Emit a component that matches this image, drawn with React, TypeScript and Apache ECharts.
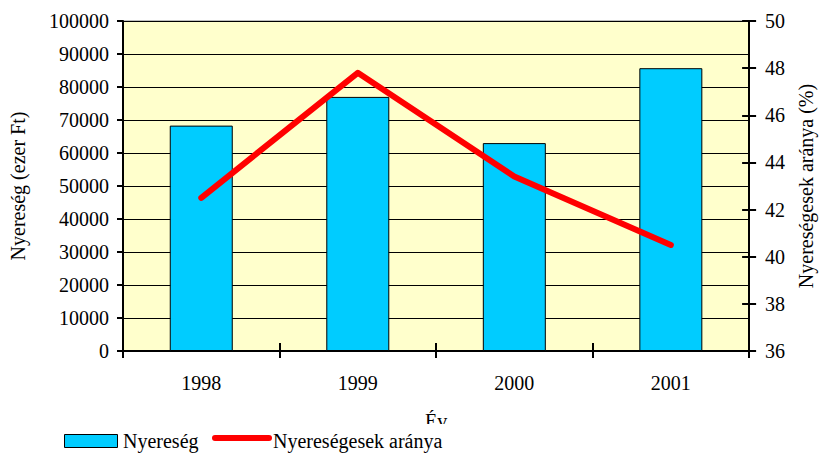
import React, { useEffect, useRef } from "react";
import * as echarts from "echarts";

const years = ["1998", "1999", "2000", "2001"];
const profit = [68300, 77000, 63000, 85700];
const ratio = [42.5, 47.8, 43.4, 40.5];
const seriesNames = ["Nyereség", "Nyereségesek aránya"];

const FONT = "Liberation Serif";

export default function App() {
  const ref = useRef<HTMLDivElement>(null);
  useEffect(() => {
    const chart = echarts.init(ref.current!, null, { renderer: "svg" });
    const txt = { fontFamily: FONT, fontSize: 20, color: "#000" };
    chart.setOption({
      animation: false,
      backgroundColor: "#fff",
      textStyle: { fontFamily: FONT },
      grid: {
        left: 123,
        right: 69,
        top: 21,
        bottom: 102,
        show: true,
        backgroundColor: "#FFFFCC",
        borderColor: "#808080",
        borderWidth: 1,
      },
      graphic: [
        { type: "rect", z: 100, shape: { x: 0, y: 424, width: 824, height: 29 }, style: { fill: "#fff" } },
        { type: "rect", z: 101, shape: { x: 64.5, y: 434.5, width: 53, height: 13 }, style: { fill: "#00CCFF", stroke: "#000", lineWidth: 1 } },
        { type: "text", z: 101, x: 123, y: 441, style: { text: seriesNames[0], fontFamily: FONT, fontSize: 20, fill: "#000", verticalAlign: "middle", align: "left" } },
        { type: "line", z: 101, shape: { x1: 215, y1: 438, x2: 269, y2: 438 }, style: { stroke: "#FF0000", lineWidth: 6, lineCap: "round" } },
        { type: "text", z: 101, x: 273, y: 441, style: { text: seriesNames[1], fontFamily: FONT, fontSize: 20, fill: "#000", verticalAlign: "middle", align: "left" } },
      ],
      xAxis: [
        {
          type: "category",
          data: years,
          boundaryGap: true,
          name: "Év",
          nameLocation: "middle",
          nameGap: 60,
          nameTextStyle: { ...txt },
          axisLine: { lineStyle: { color: "#000", width: 2 } },
          axisTick: { show: true, interval: 0, length: 7, lineStyle: { color: "#000", width: 2 } },
          axisLabel: { ...txt, margin: 22 },
          splitLine: { show: false },
        },
        {
          type: "category",
          data: years,
          position: "bottom",
          boundaryGap: true,
          axisLine: { show: false },
          axisTick: { show: true, inside: true, interval: 0, length: 8, lineStyle: { color: "#000", width: 2 } },
          axisLabel: { show: false },
          splitLine: { show: false },
        },
      ],
      yAxis: [
        {
          type: "value",
          min: 0,
          max: 100000,
          interval: 10000,
          name: "Nyereség (ezer Ft)",
          nameLocation: "middle",
          nameRotate: 90,
          nameGap: 95,
          nameTextStyle: { ...txt },
          axisLine: { show: true, lineStyle: { color: "#000", width: 2 } },
          axisTick: { show: true, length: 6, lineStyle: { color: "#000", width: 2 } },
          axisLabel: { ...txt, margin: 14, formatter: (v: number) => String(v) },
          splitLine: { show: true, lineStyle: { color: "#000", width: 1 } },
        },
        {
          type: "value",
          position: "right",
          min: 36,
          max: 50,
          interval: 2,
          name: "Nyereségesek aránya (%)",
          nameLocation: "middle",
          nameRotate: 90,
          nameGap: 44,
          nameTextStyle: { ...txt },
          axisLine: { show: true, lineStyle: { color: "#000", width: 2 } },
          axisTick: { show: true, length: 7, lineStyle: { color: "#000", width: 2 } },
          axisLabel: { ...txt, margin: 16, formatter: (v: number) => String(v) },
          splitLine: { show: false },
        },
        {
          type: "value",
          position: "right",
          min: 36,
          max: 50,
          interval: 2,
          axisLine: { show: false },
          axisTick: { show: true, inside: true, length: 7, lineStyle: { color: "#000", width: 2 } },
          axisLabel: { show: false },
          splitLine: { show: false },
        },
      ],
      series: [
        {
          name: seriesNames[0],
          type: "bar",
          data: profit,
          barWidth: 63,
          yAxisIndex: 0,
          xAxisIndex: 0,
          itemStyle: { color: "#00CCFF", borderColor: "#000", borderWidth: 1 },
        },
        {
          name: seriesNames[1],
          type: "line",
          data: ratio,
          yAxisIndex: 1,
          xAxisIndex: 0,
          symbol: "none",
          lineStyle: { color: "#FF0000", width: 6, cap: "round", join: "round" },
          itemStyle: { color: "#FF0000" },
        },
      ],
    });
    return () => chart.dispose();
  }, []);
  return (
    <div
      ref={ref}
      style={{ position: "absolute", left: 0, top: 0, width: 824, height: 453 }}
    />
  );
}
